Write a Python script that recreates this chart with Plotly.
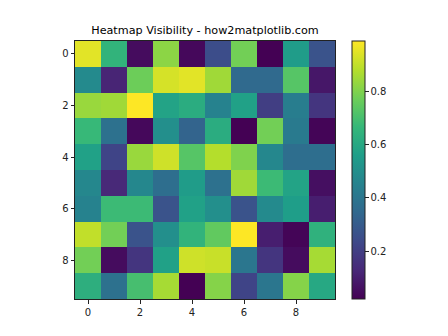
import plotly.graph_objects as go

rows = list(range(10))
cols = list(range(10))
values = [
    [0.95, 0.65, 0.05, 0.82, 0.04, 0.25, 0.78, 0.02, 0.55, 0.27],
    [0.48, 0.12, 0.77, 0.93, 0.95, 0.85, 0.35, 0.35, 0.73, 0.08],
    [0.84, 0.85, 0.99, 0.58, 0.62, 0.45, 0.57, 0.20, 0.43, 0.17],
    [0.67, 0.38, 0.04, 0.50, 0.33, 0.62, 0.02, 0.78, 0.42, 0.03],
    [0.57, 0.22, 0.84, 0.92, 0.73, 0.88, 0.80, 0.47, 0.37, 0.37],
    [0.47, 0.13, 0.47, 0.37, 0.55, 0.38, 0.85, 0.68, 0.58, 0.06],
    [0.45, 0.68, 0.68, 0.27, 0.57, 0.50, 0.27, 0.48, 0.56, 0.10],
    [0.90, 0.78, 0.27, 0.50, 0.65, 0.75, 0.99, 0.10, 0.03, 0.64],
    [0.78, 0.05, 0.17, 0.57, 0.92, 0.91, 0.40, 0.17, 0.05, 0.86],
    [0.63, 0.38, 0.70, 0.86, 0.02, 0.81, 0.22, 0.40, 0.81, 0.60],
]
tick_vals = [0, 2, 4, 6, 8]
cbar_ticks = [0.2, 0.4, 0.6, 0.8]
title_text = "Heatmap Visibility - how2matplotlib.com"

fig = go.Figure(go.Heatmap(
    z=values, x=cols, y=rows,
    colorscale="Viridis",
    zmin=min(min(r) for r in values), zmax=max(max(r) for r in values),
    colorbar=dict(
        x=1.065, xanchor="left", xpad=0, ypad=0,
        thickness=12.5, lenmode="fraction", len=1,
        y=0.5, yanchor="middle",
        outlinewidth=1, outlinecolor="#222",
        tickvals=cbar_ticks, ticktext=[f"{t:.1f}" for t in cbar_ticks],
        ticks="outside", ticklen=3.5, tickcolor="#222",
        tickfont=dict(size=10, color="#222"),
    ),
))

fig.update_layout(
    width=448, height=336,
    margin=dict(l=75, r=113, t=41, b=37),
    paper_bgcolor="white", plot_bgcolor="white",
    font=dict(family="DejaVu Sans", size=10, color="#222"),
    title=dict(text=title_text, xref="paper", x=0.5, xanchor="center",
               yref="container", y=1 - 30 / 336, yanchor="middle",
               font=dict(size=11.2, color="black")),
)
fig.update_xaxes(
    range=[-0.5, 9.5], tickvals=tick_vals, ticks="outside", ticklen=3.5,
    tickcolor="#222", showline=True, linecolor="#222", linewidth=1, mirror=True,
    showgrid=False, zeroline=False,
)
fig.update_yaxes(
    range=[9.5, -0.5], tickvals=tick_vals, ticks="outside", ticklen=3.5,
    tickcolor="#222", showline=True, linecolor="#222", linewidth=1, mirror=True,
    showgrid=False, zeroline=False,
)
fig.write_html("out.html")
